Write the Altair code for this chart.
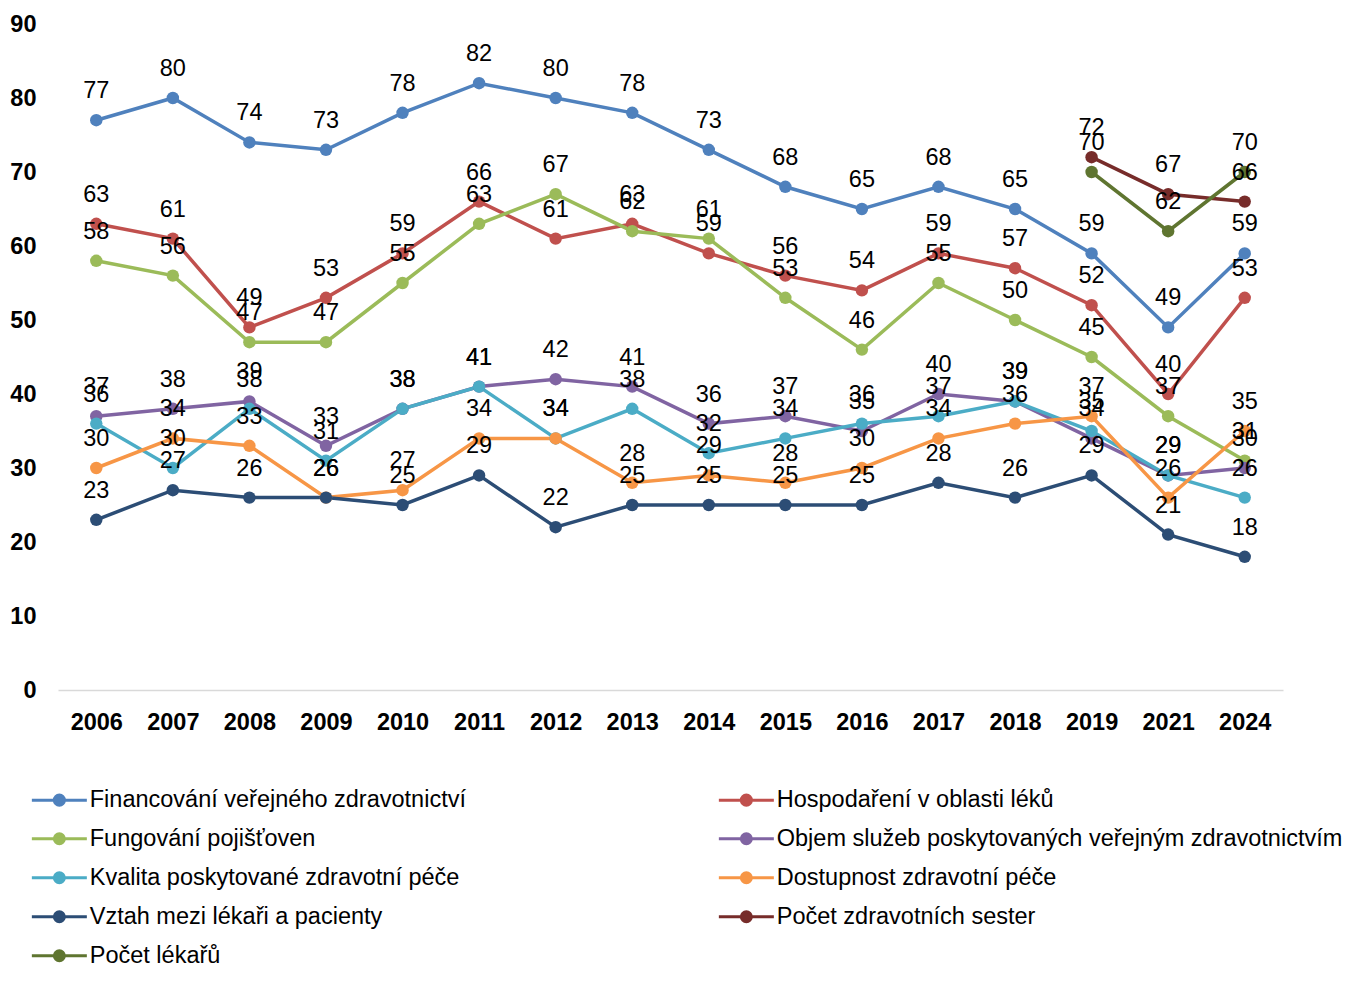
import altair as alt
import pandas as pd

years = ["2006", "2007", "2008", "2009", "2010", "2011", "2012", "2013",
         "2014", "2015", "2016", "2017", "2018", "2019", "2021", "2024"]

series_names = [
    "Financování veřejného zdravotnictví",
    "Hospodaření v oblasti léků",
    "Fungování pojišťoven",
    "Objem služeb poskytovaných veřejným zdravotnictvím",
    "Kvalita poskytované zdravotní péče",
    "Dostupnost zdravotní péče",
    "Vztah mezi lékaři a pacienty",
    "Počet zdravotních sester",
    "Počet lékařů",
]
series_colors = ["#4F81BD", "#C0504D", "#9BBB59", "#8064A2", "#4BACC6",
                 "#F79646", "#2C4D75", "#772C2A", "#5F7530"]

financovani = [77, 80, 74, 73, 78, 82, 80, 78, 73, 68, 65, 68, 65, 59, 49, 59]
hospodareni = [63, 61, 49, 53, 59, 66, 61, 63, 59, 56, 54, 59, 57, 52, 40, 53]
fungovani = [58, 56, 47, 47, 55, 63, 67, 62, 61, 53, 46, 55, 50, 45, 37, 31]
objem = [37, 38, 39, 33, 38, 41, 42, 41, 36, 37, 35, 40, 39, 34, 29, 30]
kvalita = [36, 30, 38, 31, 38, 41, 34, 38, 32, 34, 36, 37, 39, 35, 29, 26]
dostupnost = [30, 34, 33, 26, 27, 34, 34, 28, 29, 28, 30, 34, 36, 37, 26, 35]
vztah = [23, 27, 26, 26, 25, 29, 22, 25, 25, 25, 25, 28, 26, 29, 21, 18]
sestry_years = ["2019", "2021", "2024"]
sestry = [72, 67, 66]
lekari_years = ["2019", "2021", "2024"]
lekari = [70, 62, 70]

rows = []
full = [financovani, hospodareni, fungovani, objem, kvalita, dostupnost, vztah]
for name, vals in zip(series_names[:7], full):
    for y, v in zip(years, vals):
        rows.append({"rok": y, "hodnota": v, "serie": name})
for y, v in zip(sestry_years, sestry):
    rows.append({"rok": y, "hodnota": v, "serie": series_names[7]})
for y, v in zip(lekari_years, lekari):
    rows.append({"rok": y, "hodnota": v, "serie": series_names[8]})
df = pd.DataFrame(rows)

FONT = "Liberation Sans"
FS = 23.5
SYMBOL = "M-4,0H4M-0.73,0A0.73,0.73,0,1,1,0.73,0A0.73,0.73,0,1,1,-0.73,0Z"


def build(extra):
    legend = alt.Legend(
        orient="none", legendX=-10.4, legendY=764, columns=2, direction="horizontal",
        title=None,
        symbolType=SYMBOL, symbolSize=189, symbolStrokeWidth=3,
        labelFont=FONT, labelFontSize=23.5, labelColor="#000000",
        labelOffset=18.65, labelLimit=800, rowPadding=14, columnPadding=246,
        padding=0, **extra)
    base = alt.Chart(df).encode(
        x=alt.X("rok:N", sort=years, title=None,
                scale=alt.Scale(type="point", padding=0.5),
                axis=alt.Axis(labelAngle=0, labelFont=FONT, labelFontSize=FS,
                              labelFontWeight="bold", labelColor="#000000",
                              labelPadding=20, ticks=False, domainColor="#D9D9D9",
                              domainWidth=1.5, grid=False)),
        y=alt.Y("hodnota:Q", title=None,
                scale=alt.Scale(domain=[0, 90], nice=False),
                axis=alt.Axis(values=list(range(0, 91, 10)), labelFont=FONT,
                              labelFontSize=FS, labelFontWeight="bold",
                              labelColor="#000000", labelPadding=22,
                              ticks=False, domain=False, grid=False)),
        color=alt.Color("serie:N", sort=series_names,
                        scale=alt.Scale(domain=series_names, range=series_colors),
                        legend=legend),
    )
    line = base.mark_line(strokeWidth=3.5)
    pts = base.mark_point(filled=True, size=155, opacity=1)
    txt = base.mark_text(dy=-29, font=FONT, fontSize=FS).encode(
        text="hodnota:Q", color=alt.value("#000000"))
    chart = alt.layer(line, pts, txt).properties(
        width=1225, height=666,
        padding={"left": 50, "top": 16, "right": 66, "bottom": 278},
        autosize=alt.AutoSizeParams(type="none"),
        background="white",
    ).configure_view(stroke=None)
    return chart


enc = {"symbols": {"update": {
    "fill": {"scale": "color", "field": "value"},
    "stroke": {"scale": "color", "field": "value"}}}}
saved = False
for extra in ({"encoding": enc}, {"encode": enc}, {}):
    try:
        build(extra).save("out.html", embed_options={"renderer": "svg", "actions": False})
        saved = True
        break
    except Exception:
        continue
